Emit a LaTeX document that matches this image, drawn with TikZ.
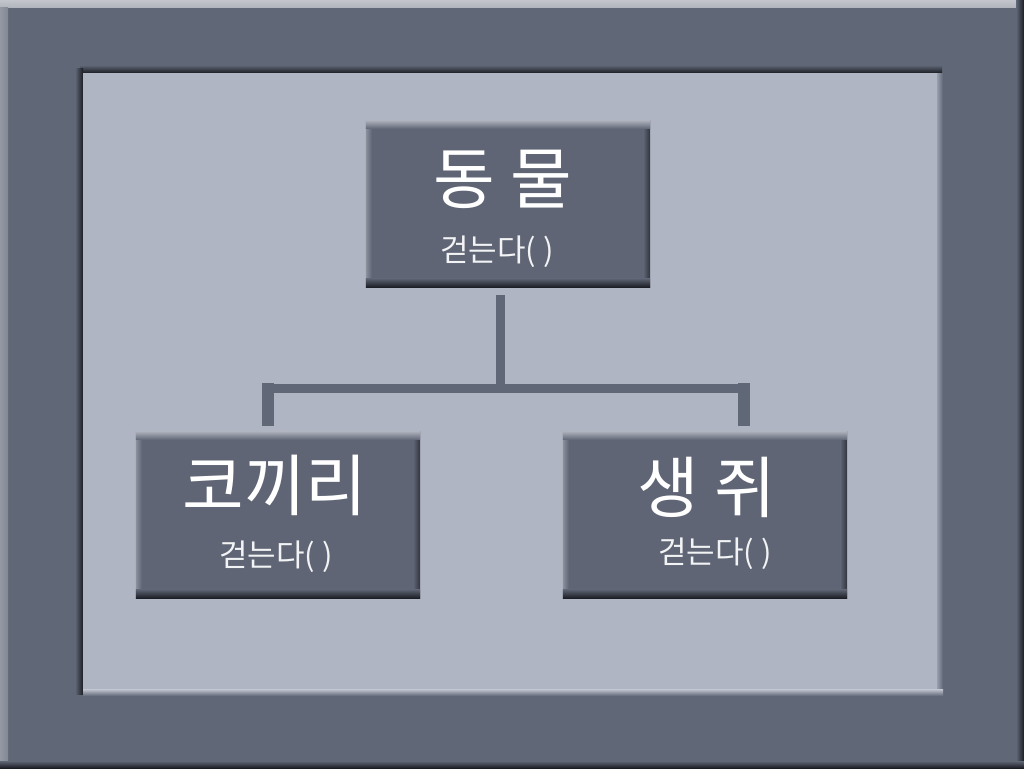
\documentclass[tikz,border=0pt]{standalone}
\usepackage{fontspec}
\newfontfamily\krfont{Noto Sans CJK KR}
\definecolor{frame}{HTML}{606776}
\definecolor{panel}{HTML}{B0B5C4}
\definecolor{boxfill}{HTML}{5F6575}
\definecolor{shadow}{HTML}{1B1D24}
\definecolor{gleam}{HTML}{A9ADB8}

\newcommand\bevelbox[1]{%
  \shade[left color=gleam!60!boxfill, right color=boxfill] (#1.north west) rectangle ([xshift=6pt]#1.south west);
  \shade[left color=boxfill, right color=shadow!70!boxfill] ([xshift=-7pt]#1.north east) rectangle (#1.south east);
  \shade[top color=gleam, bottom color=boxfill] (#1.north west) rectangle ([yshift=-8pt]#1.north east);
  \shade[top color=boxfill, bottom color=shadow] ([yshift=9pt]#1.south west) rectangle (#1.south east);
}

\begin{document}
\begin{tikzpicture}[x=1pt,y=-1pt,
    classbox/.style={fill=boxfill, minimum width=284pt, minimum height=166pt, inner sep=0pt},
    classname/.style={anchor=base, text=white, font=\krfont\fontsize{67}{67}\selectfont, inner sep=0pt},
    method/.style={anchor=base, text=white!92!boxfill, font=\krfont\fontsize{31}{31}\selectfont, inner sep=0pt},
    trunk/.style={draw=frame, line width=9pt},
    drop/.style={draw=frame, line width=12pt}]
  \useasboundingbox (0,0) rectangle (1024,768);

  % frame
  \fill[frame] (0,0) rectangle (1024,768);
  \shade[top color=white!62!frame, bottom color=white!50!frame] (0,0) rectangle (1024,8);
  \shade[left color=white!32!frame, right color=white!22!frame] (0,8) rectangle (8,768);
  \shade[left color=frame, right color=shadow] (1016,0) rectangle (1024,768);
  \shade[top color=frame, bottom color=shadow] (0,761) rectangle (1024,768);

  % panel
  \shade[top color=frame, bottom color=shadow] (80,65) rectangle (942,73);
  \shade[left color=frame, right color=shadow] (75,68) rectangle (83,694);
  \shade[left color=panel!70!frame, right color=frame] (937,73) rectangle (943,695);
  \shade[top color=white!25!panel, bottom color=frame] (83,689) rectangle (943,696);
  \fill[panel] (83,73) rectangle (937,689);

  \node[classbox] (animal) at (508,204) {};
  \node[classbox] (elephant) at (278,515) {};
  \node[classbox] (mouse) at (705,515) {};
  \bevelbox{animal}
  \bevelbox{elephant}
  \bevelbox{mouse}

  \node[classname] (animalname) at (503,203) {동 물};
  \node[method] (animalwalk) at (497,261) {걷는다( )};
  \node[classname] (elephantname) at (275,510) {코끼리};
  \node[method] (elephantwalk) at (276,566) {걷는다( )};
  \node[classname] (mousename) at (707,512) {생 쥐};
  \node[method] (mousewalk) at (715,563) {걷는다( )};

  \coordinate (fork) at (500.5,388.5);
  \coordinate (lefthook) at (268,383);
  \coordinate (righthook) at (744,383);
  \draw[trunk] ([xshift=-7.5pt,yshift=-8pt]animal.south) -- (fork);
  \draw[trunk] (lefthook |- fork) -- (righthook |- fork);
  \draw[drop] ([xshift=-10pt,yshift=6pt]elephant.north) -- (lefthook);
  \draw[drop] ([xshift=39pt,yshift=6pt]mouse.north) -- (righthook);
\end{tikzpicture}
\end{document}
